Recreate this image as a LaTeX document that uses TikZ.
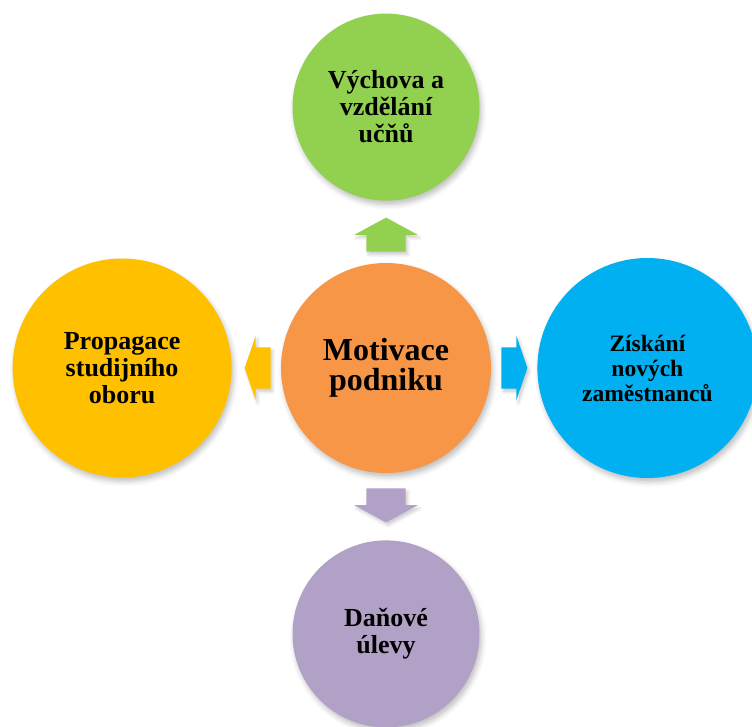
\documentclass[tikz,border=0pt]{standalone}
\usepackage{fontspec}
\setmainfont{Liberation Serif}
\usetikzlibrary{positioning,calc,shapes.arrows,shadows.blur}
\definecolor{motorange}{HTML}{F79646}
\definecolor{vychgreen}{HTML}{92D050}
\definecolor{propyellow}{HTML}{FFC000}
\definecolor{ziskblue}{HTML}{00B0F0}
\definecolor{danpurple}{HTML}{B2A1C7}

\begin{document}
\begin{tikzpicture}[
circ/.style={circle,inner sep=0pt,align=center,
    font=\bfseries\fontsize{26}{27}\selectfont,
    blur shadow={shadow xshift=2pt,shadow yshift=-4pt,shadow blur radius=5pt,shadow opacity=25}},
harrow/.style={single arrow,anchor=tail,inner xsep=0pt,inner ysep=20.5pt,minimum height=26pt,
    single arrow head extend=11.5pt,single arrow tip angle=142,
    blur shadow={shadow xshift=2pt,shadow yshift=-3pt,shadow blur radius=3pt,shadow opacity=20}},
varrow/.style={single arrow,anchor=tail,inner xsep=0pt,inner ysep=19.5pt,minimum height=34pt,
    single arrow head extend=12pt,single arrow tip angle=123,
    blur shadow={shadow xshift=2pt,shadow yshift=-3pt,shadow blur radius=3pt,shadow opacity=20}}]
\useasboundingbox (0,0) rectangle (752pt,-726pt);

% circles
\node (mot) [circ,fill=motorange,minimum size=210pt,
    font=\bfseries\fontsize{32}{30}\selectfont] at (386pt,-368pt) {Motivace\\podniku};
\node (vych) [circ,fill=vychgreen,minimum size=187pt,above=62pt of mot] {Výchova a\\vzdělání\\učňů};
\node (prop) [circ,fill=propyellow,minimum size=219pt,left=49pt of mot] {Propagace\\studijního\\oboru};
\node (zisk) [circ,fill=ziskblue,minimum size=220pt,right=46pt of mot,
    font=\bfseries\fontsize{23.5}{25}\selectfont] {Získání\\nových\\zaměstnanců};
\node (dan) [circ,fill=danpurple,minimum size=187pt,below=67pt of mot] {Daňové\\úlevy};

% block arrows
\node (avych) [varrow,fill=vychgreen,rotate=90] at ($(mot.north)+(0,11pt)$) {};
\node (adan) [varrow,fill=danpurple,rotate=-90] at ($(mot.south)+(0,-15pt)$) {};
\node (aprop) [harrow,fill=propyellow,rotate=180] at ($(mot.west)+(-10pt,0)$) {};
\node (azisk) [harrow,fill=ziskblue] at ($(mot.east)+(10pt,0)$) {};
\end{tikzpicture}
\end{document}
